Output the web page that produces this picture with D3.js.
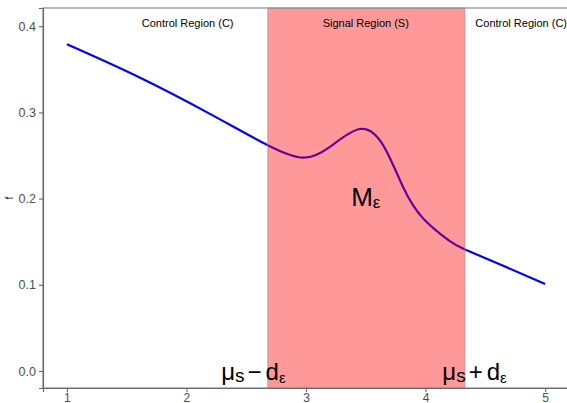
<!DOCTYPE html>
<html>
<head>
<meta charset="utf-8">
<script src="https://cdn.jsdelivr.net/npm/d3@7"></script>
<style>
  html, body { margin: 0; padding: 0; background: #fff; }
  svg { display: block; font-family: "Liberation Sans", Arial, sans-serif; }
</style>
</head>
<body>
<svg id="chart" width="567" height="403"></svg>
<script>
// Density curve f(x): background falling off with a bump inside the signal region
const curveX = [1.0, 1.6, 2.2, 2.68, 2.98, 3.2, 3.45, 3.645, 3.81, 3.98, 4.2, 4.33, 4.65, 5.0];
const curveY = [0.379, 0.341, 0.298, 0.262, 0.2475, 0.260, 0.2807, 0.262, 0.214, 0.177, 0.151, 0.141, 0.122, 0.101];

// Signal region bounds: mu_s - d_eps, mu_s + d_eps
const signalBounds = [2.68, 4.33];

// Region captions
const regionLabels = ["Control Region (C)", "Signal Region (S)", "Control Region (C)"];
const regionLabelX = [2.01, 3.5, 4.80];

const xTicks = [1, 2, 3, 4, 5];
const yTicks = [0.0, 0.1, 0.2, 0.3, 0.4];

const svg = d3.select("#chart");
const margin = { left: 43, right: -2, top: 8, bottom: 15 };
const W = 567, H = 403;

const x = d3.scaleLinear().domain([0.8, 5.2]).range([margin.left, W - margin.right]);
const y = d3.scaleLinear().domain([-0.0197, 0.4211]).range([H - margin.bottom, margin.top]);

const data = curveX.map((v, i) => ({ x: v, y: curveY[i] }));

// curve
const line = d3.line().x(d => x(d.x)).y(d => y(d.y)).curve(d3.curveNatural);
svg.append("path")
  .datum(data)
  .attr("d", line)
  .attr("fill", "none")
  .attr("stroke", "#0000ff")
  .attr("stroke-width", 2.2);

// translucent signal band over the curve
svg.append("rect")
  .attr("x", x(signalBounds[0]))
  .attr("y", y.range()[1])
  .attr("width", x(signalBounds[1]) - x(signalBounds[0]))
  .attr("height", y.range()[0] - y.range()[1])
  .attr("fill", "#ff0000")
  .attr("fill-opacity", 0.4)
  .attr("stroke", "#9a9a9a")
  .attr("stroke-opacity", 0.7)
  .attr("stroke-width", 1);

// region captions
svg.selectAll("text.region")
  .data(regionLabels)
  .enter().append("text")
  .attr("class", "region")
  .attr("x", (d, i) => x(regionLabelX[i]))
  .attr("y", 27)
  .attr("text-anchor", "middle")
  .attr("font-size", 11)
  .attr("fill", "#000")
  .text(d => d);

// M_eps label
const mLab = svg.append("text")
  .attr("x", x(3.5))
  .attr("y", 206)
  .attr("text-anchor", "middle")
  .attr("font-size", 26)
  .attr("fill", "#000");
mLab.append("tspan").text("M");
mLab.append("tspan").attr("font-size", 17).attr("dy", 2).text("ε");

// bound labels
function boundLabel(cx, sign) {
  const t = svg.append("text")
    .attr("x", cx)
    .attr("y", 380)
    .attr("text-anchor", "middle")
    .attr("font-size", 24)
    .attr("fill", "#000");
  t.append("tspan").text("μ");
  t.append("tspan").attr("font-size", 19).attr("dy", 2).text("s");
  t.append("tspan").attr("dy", -2).attr("dx", 3).text(sign);
  t.append("tspan").attr("dx", 4).text("d");
  t.append("tspan").attr("font-size", 15).attr("dy", 3).text("ε");
}
boundLabel(x(2.56), "−");
boundLabel(x(4.41), "+");

// panel border
svg.append("rect")
  .attr("x", x.range()[0])
  .attr("y", y.range()[1])
  .attr("width", x.range()[1] - x.range()[0])
  .attr("height", y.range()[0] - y.range()[1])
  .attr("fill", "none")
  .attr("stroke", "#8a8a8a")
  .attr("stroke-width", 1.2);

// axes
const xAxis = d3.axisBottom(x).tickValues(xTicks).tickFormat(d3.format("d")).tickSize(4).tickPadding(1);
const yAxis = d3.axisLeft(y).tickValues(yTicks).tickFormat(d3.format(".1f")).tickSize(4).tickPadding(3);

const gx = svg.append("g").attr("transform", `translate(0,${y.range()[0]})`).call(xAxis);
const gy = svg.append("g").attr("transform", `translate(${x.range()[0]},0)`).call(yAxis);
[gx, gy].forEach(g => {
  g.select(".domain").attr("stroke", "#6a6a6a").attr("stroke-width", 1.2);
  g.selectAll(".tick line").attr("stroke", "#6a6a6a").attr("stroke-width", 1.1);
  g.selectAll(".tick text").attr("fill", "#4d4d4d").attr("font-size", 12.5)
    .attr("font-family", "'Liberation Sans', Arial, sans-serif");
});
gx.selectAll(".tick text").attr("font-size", 12);

// y-axis title
svg.append("text")
  .attr("transform", `translate(13,${(y.range()[0] + y.range()[1]) / 2}) rotate(-90)`)
  .attr("text-anchor", "middle")
  .attr("font-size", 10)
  .attr("fill", "#000")
  .text("f");
</script>
</body>
</html>
